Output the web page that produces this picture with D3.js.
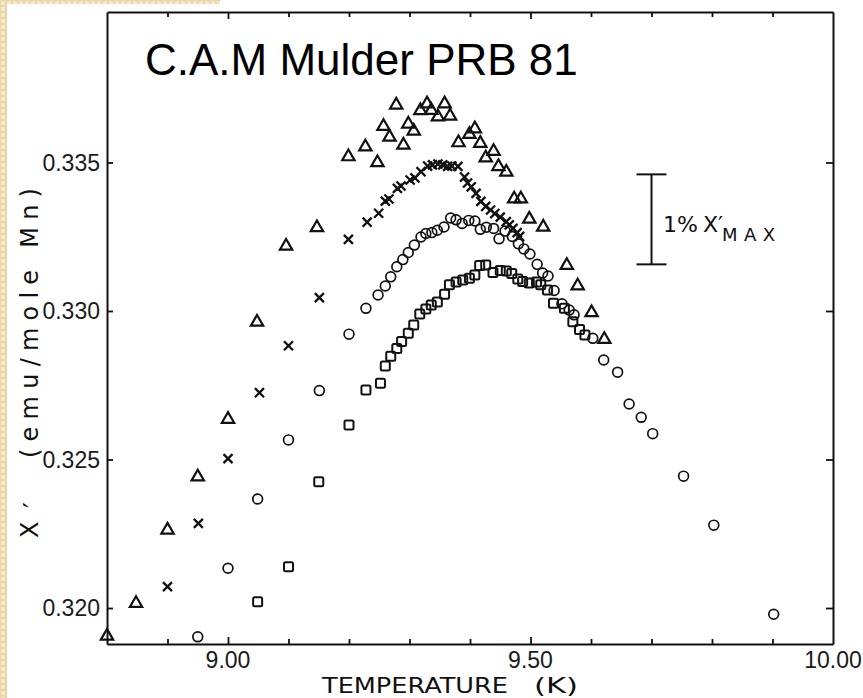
<!DOCTYPE html>
<html><head><meta charset="utf-8">
<script src="https://cdn.jsdelivr.net/npm/d3@7"></script>
<style>html,body{margin:0;padding:0;background:#fff;} svg{display:block;}</style>
</head><body>
<svg id="c" width="863" height="698"></svg>
<script>
// ---- data (temperature K, chi' emu/mole Mn) ----
const triangles = [[8.800,0.31909],[8.848,0.32019],[8.900,0.32266],[8.950,0.32445],[9.000,0.32639],[9.048,0.32966],[9.096,0.33222],[9.147,0.33284],[9.199,0.33523],[9.227,0.33556],[9.247,0.33503],[9.257,0.33625],[9.267,0.33589],[9.278,0.33697],[9.290,0.33562],[9.298,0.33633],[9.307,0.33609],[9.318,0.33678],[9.329,0.33701],[9.336,0.33679],[9.347,0.33657],[9.358,0.33701],[9.367,0.33660],[9.381,0.33570],[9.399,0.33598],[9.408,0.33617],[9.417,0.33568],[9.426,0.33519],[9.439,0.33541],[9.447,0.33490],[9.460,0.33471],[9.473,0.33381],[9.484,0.33381],[9.498,0.33313],[9.521,0.33286],[9.560,0.33157],[9.578,0.33088],[9.601,0.32998],[9.622,0.32908]];
const crosses = [[8.900,0.32072],[8.951,0.32285],[9.000,0.32503],[9.052,0.32725],[9.100,0.32883],[9.151,0.33045],[9.199,0.33241],[9.230,0.33299],[9.249,0.33329],[9.260,0.33370],[9.266,0.33377],[9.280,0.33413],[9.286,0.33421],[9.301,0.33441],[9.309,0.33448],[9.319,0.33469],[9.330,0.33488],[9.338,0.33492],[9.347,0.33495],[9.355,0.33492],[9.363,0.33487],[9.370,0.33488],[9.380,0.33487],[9.391,0.33451],[9.396,0.33431],[9.402,0.33418],[9.410,0.33396],[9.418,0.33369],[9.426,0.33352],[9.434,0.33340],[9.441,0.33328],[9.450,0.33316],[9.460,0.33301],[9.465,0.33290],[9.471,0.33278],[9.478,0.33264],[9.482,0.33251]];
const circles = [[8.950,0.31903],[9.000,0.32134],[9.049,0.32367],[9.100,0.32566],[9.151,0.32732],[9.200,0.32922],[9.228,0.33009],[9.248,0.33054],[9.260,0.33084],[9.269,0.33115],[9.279,0.33149],[9.289,0.33173],[9.298,0.33197],[9.308,0.33222],[9.319,0.33249],[9.327,0.33261],[9.337,0.33264],[9.346,0.33272],[9.357,0.33283],[9.368,0.33313],[9.377,0.33307],[9.387,0.33295],[9.398,0.33305],[9.408,0.33303],[9.417,0.33275],[9.427,0.33282],[9.439,0.33278],[9.448,0.33243],[9.458,0.33269],[9.470,0.33251],[9.480,0.33226],[9.489,0.33209],[9.499,0.33192],[9.511,0.33157],[9.520,0.33128],[9.529,0.33118],[9.539,0.33069],[9.552,0.33024],[9.564,0.33003],[9.572,0.32987],[9.603,0.32908],[9.621,0.32835],[9.644,0.32794],[9.663,0.32687],[9.683,0.32642],[9.702,0.32587],[9.753,0.32444],[9.803,0.32279],[9.902,0.31979]];
const squares = [[9.049,0.32021],[9.100,0.32139],[9.150,0.32425],[9.200,0.32616],[9.228,0.32734],[9.252,0.32757],[9.260,0.32815],[9.269,0.32848],[9.279,0.32874],[9.287,0.32897],[9.298,0.32925],[9.307,0.32953],[9.317,0.32990],[9.327,0.33007],[9.336,0.33020],[9.346,0.33030],[9.358,0.33056],[9.366,0.33088],[9.377,0.33098],[9.388,0.33104],[9.399,0.33110],[9.408,0.33121],[9.416,0.33153],[9.426,0.33155],[9.438,0.33130],[9.450,0.33136],[9.460,0.33135],[9.469,0.33126],[9.479,0.33108],[9.487,0.33099],[9.498,0.33094],[9.510,0.33098],[9.517,0.33088],[9.528,0.33071],[9.538,0.33026],[9.556,0.33009],[9.570,0.32964],[9.581,0.32938],[9.590,0.32919]];
const xTicks = [8.9,9.0,9.1,9.2,9.3,9.4,9.5,9.6,9.7,9.8,9.9];
const xMajor = [9.0,9.5];
const xLabelValues = [9.0,9.5,10.0];
const xLabelTexts = ["9.00","9.50","10.00"];
const yTicks = [0.320,0.325,0.330,0.335];
const yLabelTexts = ["0.320","0.325","0.330","0.335"];
const errBar = [9.700, 0.33157, 0.33460]; // T, low, high (1% chi'max)
const titleText = "C.A.M Mulder PRB 81";

const svg = d3.select("#c");
const W = 863, H = 698;
const x = d3.scaleLinear().domain([8.80, 10.00]).range([107, 833]);
const y = d3.scaleLinear().domain([0.318788, 0.340067]).range([644, 12]);
const ink = "#111";

// beige textured border
const defs = svg.append("defs");
const pat = defs.append("pattern").attr("id","tex").attr("width",6).attr("height",6).attr("patternUnits","userSpaceOnUse");
pat.append("rect").attr("width",6).attr("height",6).attr("fill","#ead5a8");
pat.append("rect").attr("x",1).attr("y",1).attr("width",4).attr("height",4).attr("fill","#f6e9cb");
svg.append("rect").attr("x",0).attr("y",0).attr("width",7).attr("height",H).attr("fill","url(#tex)");
svg.append("rect").attr("x",0).attr("y",0).attr("width",220).attr("height",4).attr("fill","url(#tex)");

// axes
function styleAxis(g){
  g.select(".domain").attr("stroke",ink).attr("stroke-width",2);
  g.selectAll(".tick line").attr("stroke",ink).attr("stroke-width",1.8);
  g.selectAll(".tick text").remove();
}
const gB = svg.append("g").attr("transform","translate(0,644)")
  .call(d3.axisBottom(x).tickValues(xTicks).tickSizeInner(-5).tickSizeOuter(0).tickFormat(""));
styleAxis(gB);
gB.selectAll(".tick").filter(d=>xMajor.includes(d)).select("line").attr("y2",-7);
const gT = svg.append("g").attr("transform","translate(0,12)")
  .call(d3.axisTop(x).tickValues(xTicks).tickSizeInner(-5).tickSizeOuter(0).tickFormat(""));
styleAxis(gT);
gT.selectAll(".tick").filter(d=>xMajor.includes(d)).select("line").attr("y2",7);
const gL = svg.append("g").attr("transform","translate(107,0)")
  .call(d3.axisLeft(y).tickValues(yTicks).tickSizeInner(-6).tickSizeOuter(0).tickFormat(""));
styleAxis(gL);
const gR = svg.append("g").attr("transform","translate(833,0)")
  .call(d3.axisRight(y).tickValues(yTicks).tickSizeInner(-7).tickSizeOuter(0).tickFormat(""));
styleAxis(gR);

// tick labels
const numFont = "'Liberation Sans', Arial, sans-serif";
svg.append("g").selectAll("text").data(xLabelValues).join("text")
  .attr("x",d=>x(d)).attr("y",667.5).attr("text-anchor","middle")
  .attr("font-family",numFont).attr("font-size",23).attr("fill","#1a1a1a")
  .text((d,i)=>xLabelTexts[i]);
svg.append("g").selectAll("text").data(yTicks).join("text")
  .attr("x",100).attr("y",d=>y(d)+8.3).attr("text-anchor","end")
  .attr("font-family",numFont).attr("font-size",23).attr("fill","#1a1a1a")
  .text((d,i)=>yLabelTexts[i]);

// axis titles (old lettering style)
const letFont = "'DejaVu Sans', sans-serif";
svg.append("text").attr("x",322).attr("y",692.8).attr("font-family",letFont).attr("font-size",22)
  .attr("textLength",186).attr("lengthAdjust","spacingAndGlyphs").attr("fill",ink).text("TEMPERATURE");
svg.append("text").attr("x",534).attr("y",692.8).attr("font-family",letFont).attr("font-size",22)
  .attr("textLength",44).attr("lengthAdjust","spacingAndGlyphs").attr("fill",ink).text("(K)");

svg.append("text").attr("transform","translate(38,538) rotate(-90)")
  .attr("font-family",letFont).attr("font-size",24).attr("fill",ink).text("X");
svg.append("text").attr("transform","translate(43,508) rotate(-90)")
  .attr("font-family",letFont).attr("font-size",26).attr("fill",ink).text("′");
svg.append("text").attr("transform","translate(38,458) rotate(-90)")
  .attr("font-family",letFont).attr("font-size",24).attr("fill",ink)
  .attr("textLength",270).attr("lengthAdjust","spacing").text("(emu/mole Mn)");

// title
svg.append("text").attr("x",145).attr("y",75).attr("font-family",numFont).attr("font-size",44)
  .attr("fill","#000").text(titleText);

// error bar
const ex = x(errBar[0]);
const eg = svg.append("g").attr("stroke",ink).attr("stroke-width",2);
eg.append("line").attr("x1",ex).attr("x2",ex).attr("y1",y(errBar[2])).attr("y2",y(errBar[1]));
eg.append("line").attr("x1",ex-15).attr("x2",ex+15).attr("y1",y(errBar[2])).attr("y2",y(errBar[2]));
eg.append("line").attr("x1",ex-15).attr("x2",ex+15).attr("y1",y(errBar[1])).attr("y2",y(errBar[1]));
svg.append("text").attr("x",663).attr("y",232).attr("font-family",letFont).attr("font-size",22).attr("fill",ink).text("1%");
svg.append("text").attr("x",703).attr("y",232).attr("font-family",letFont).attr("font-size",22).attr("fill",ink).text("X′");
svg.append("text").attr("x",722).attr("y",241).attr("font-family",letFont).attr("font-size",18)
  .attr("textLength",53).attr("lengthAdjust","spacing").attr("fill",ink).text("MAX");

// markers
const mk = svg.append("g").attr("fill","none").attr("stroke",ink);
mk.append("g").attr("stroke-width",2.2).selectAll("path").data(triangles).join("path")
  .attr("transform",d=>`translate(${x(d[0])},${y(d[1])+1})`)
  .attr("d",d3.symbol().type(d3.symbolTriangle).size(66));
mk.append("g").attr("stroke-width",2.3).selectAll("path").data(crosses).join("path")
  .attr("transform",d=>`translate(${x(d[0])},${y(d[1])})`)
  .attr("d",d3.symbol().type(d3.symbolX).size(55));
mk.append("g").attr("stroke-width",1.7).selectAll("circle").data(circles).join("circle")
  .attr("cx",d=>x(d[0])).attr("cy",d=>y(d[1])).attr("r",4.9);
mk.append("g").attr("stroke-width",2).selectAll("rect").data(squares).join("rect")
  .attr("x",d=>x(d[0])-4.5).attr("y",d=>y(d[1])-4.5).attr("width",9).attr("height",9).attr("rx",1.5);
</script>
</body></html>
